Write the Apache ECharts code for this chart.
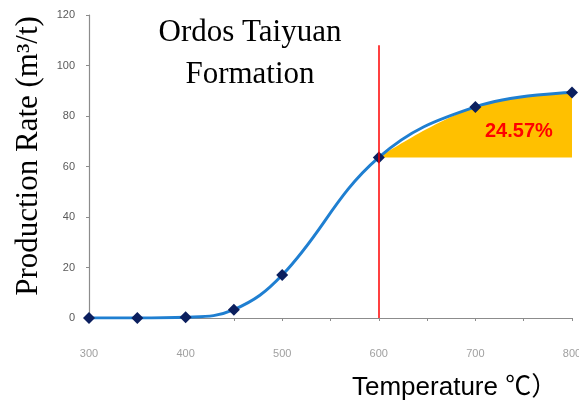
<!DOCTYPE html>
<html>
<head>
<meta charset="utf-8">
<script src="https://cdn.jsdelivr.net/npm/echarts@6/dist/echarts.min.js"></script>
<style>
  html, body { margin: 0; padding: 0; background: #fff; }
  #chart { width: 579px; height: 406px; }
</style>
</head>
<body>
<div id="chart"></div>
<script>
// temperature (℃) vs production rate (m3/t)
const temps = [300, 350, 400, 450, 500, 600, 700, 800];
const rates = [0, 0, 0.3, 3.3, 17, 63.6, 83.6, 89.3];
// shaded gain region above the 600 ℃ level
const shadeTemps = [600, 700, 800];
const shadeBase = 63.6;
const gainLabel = "24.57%";
const cutoffTemp = 600;

const LINE_BLUE = "#1f7fd1";
const MARKER = "#0b1f5e";
const SHADE = "#ffc000";

const chart = echarts.init(document.getElementById("chart"));

const curve = temps.map((t, i) => [t, rates[i]]);
const shade = shadeTemps.map((t) => [t, rates[temps.indexOf(t)]]);

chart.setOption({
  animation: false,
  grid: { left: 89, right: 7, top: 15, bottom: 88, outerBoundsMode: "none" },
  xAxis: {
    type: "value",
    min: 300,
    max: 800,
    interval: 100,
    axisLine: { lineStyle: { color: "#8c8c8c", width: 1.2 } },
    axisTick: { show: true, length: 3, lineStyle: { color: "#8c8c8c" } },
    minorTick: { show: true, splitNumber: 2, length: 3, lineStyle: { color: "#8c8c8c" } },
    splitLine: { show: false },
    axisLabel: {
      margin: 30,
      color: "#a0a0a0",
      fontSize: 11,
      fontFamily: "Liberation Sans Narrow, Arial, sans-serif",
    },
  },
  yAxis: {
    type: "value",
    min: 0,
    max: 120,
    interval: 20,
    axisLine: { show: true, lineStyle: { color: "#8c8c8c", width: 1.2 } },
    axisTick: { show: true, length: 3, lineStyle: { color: "#8c8c8c" } },
    splitLine: { show: false },
    axisLabel: {
      margin: 14,
      color: "#5a5a5a",
      fontSize: 11,
      fontFamily: "Liberation Sans Narrow, Arial, sans-serif",
    },
  },
  graphic: [
    {
      type: "text",
      x: 250,
      y: 54,
      style: {
        text: "Ordos Taiyuan\nFormation",
        fontFamily: "Liberation Serif, Times New Roman, serif",
        fontSize: 31,
        lineHeight: 42,
        align: "center",
        verticalAlign: "middle",
        fill: "#000",
      },
    },
    {
      type: "text",
      x: 29,
      y: 156,
      rotation: Math.PI / 2,
      style: {
        text: "Production Rate (m³/t)",
        fontFamily: "Liberation Serif, Times New Roman, serif",
        fontSize: 31,
        align: "center",
        verticalAlign: "middle",
        fill: "#000",
      },
    },
    {
      type: "text",
      x: 352,
      y: 388,
      style: {
        text: "Temperature ℃）",
        fontFamily: "Liberation Sans, Arial, Noto Sans CJK SC, sans-serif",
        fontSize: 26,
        align: "left",
        verticalAlign: "middle",
        fill: "#000",
      },
    },
  ],
  series: [
    {
      type: "line",
      data: shade,
      smooth: 0.4,
      symbol: "none",
      lineStyle: { width: 0 },
      areaStyle: { color: SHADE, opacity: 1, origin: shadeBase },
      z: 1,
      markPoint: {
        symbol: "circle",
        symbolSize: 1,
        itemStyle: { color: "rgba(0,0,0,0)" },
        data: [{ coord: [745, 74], value: gainLabel }],
        label: {
          show: true,
          position: "inside",
          formatter: gainLabel,
          color: "#ff0000",
          fontWeight: "bold",
          fontSize: 20,
          fontFamily: "Liberation Sans Narrow, Arial, sans-serif",
        },
      },
    },
    {
      type: "line",
      data: curve,
      smooth: 0.4,
      symbol: "diamond",
      symbolSize: 12,
      itemStyle: { color: MARKER },
      lineStyle: { color: LINE_BLUE, width: 3 },
      z: 3,
      markLine: {
        silent: true,
        symbol: "none",
        label: { show: false },
        lineStyle: { color: "#ff0000", width: 1.5, type: "solid", opacity: 1 },
        data: [[{ coord: [cutoffTemp, 0] }, { coord: [cutoffTemp, 108] }]],
      },
    },
  ],
});
</script>
</body>
</html>
